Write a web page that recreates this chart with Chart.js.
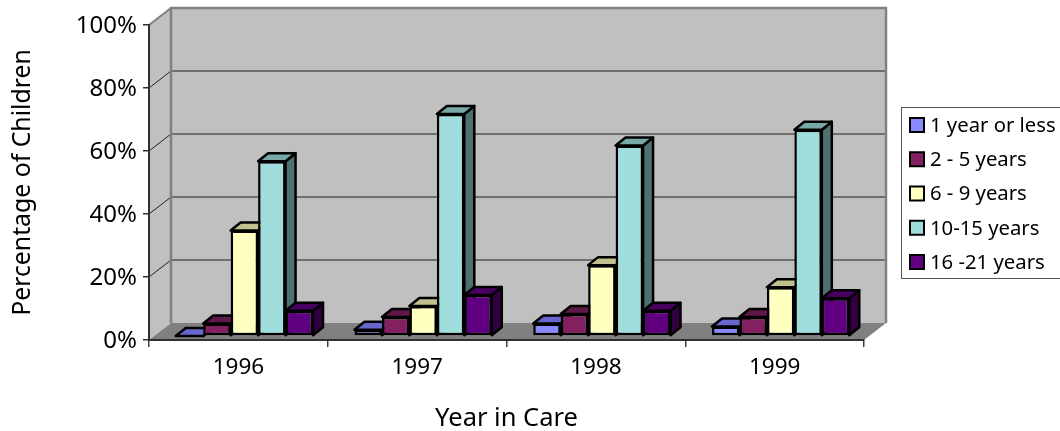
<!DOCTYPE html>
<html>
<head>
<meta charset="utf-8">
<title>Children in care by age group</title>
<script src="https://cdn.jsdelivr.net/npm/chart.js@4"></script>
<style>
  html, body { margin: 0; padding: 0; background: #fff; }
  canvas { display: block; }
</style>
</head>
<body>
<canvas id="careChart" width="1060" height="431"></canvas>
<script>
const years = ['1996', '1997', '1998', '1999'];
const groupNames = ['1 year or less', '2 - 5 years', '6 - 9 years', '10-15 years', '16 -21 years'];

const oneOrLess = [0, 2, 4, 3];
const twoToFive = [4, 6, 7, 6];
const sixToNine = [33.5, 9.5, 22.5, 15.5];
const tenToFifteen = [55.5, 70.5, 60.5, 65.5];
const sixteenUp = [8, 13, 8, 12];

const frontColors = ['#8888FF', '#822060', '#FFFFC0', '#A0DEDE', '#600080'];
const topColors = ['#6666CC', '#601848', '#C0C090', '#78A8A8', '#480060'];
const sideColors = ['#444488', '#401030', '#808060', '#507070', '#300040'];

const seriesValues = [oneOrLess, twoToFive, sixToNine, tenToFifteen, sixteenUp];

const uiFont = '"Noto Sans", "DejaVu Sans", sans-serif';

// depth of the room behind the axes, and of each bar
const wallDx = 22, wallDy = -17;
const barDx = 10, barDy = -8;
// bars stand a little way in from the front edge of the floor
const standDx = 6, standDy = -4;

function poly(ctx, pts, fill, stroke, lineWidth) {
  ctx.beginPath();
  pts.forEach((p, i) => i ? ctx.lineTo(p[0], p[1]) : ctx.moveTo(p[0], p[1]));
  ctx.closePath();
  if (fill) { ctx.fillStyle = fill; ctx.fill(); }
  if (stroke) {
    ctx.strokeStyle = stroke;
    ctx.lineWidth = lineWidth;
    ctx.lineJoin = 'round';
    ctx.stroke();
  }
}

const roomPlugin = {
  id: 'room',
  beforeDraw(chart) {
    const { ctx, chartArea: a } = chart;
    const yScale = chart.scales.y;
    ctx.save();
    // back wall, left wall, floor
    poly(ctx, [[a.left + wallDx, a.top + wallDy], [a.right + wallDx, a.top + wallDy],
      [a.right + wallDx, a.bottom + wallDy], [a.left + wallDx, a.bottom + wallDy]], '#C0C0C0');
    poly(ctx, [[a.left, a.top], [a.left + wallDx, a.top + wallDy],
      [a.left + wallDx, a.bottom + wallDy], [a.left, a.bottom]], '#C0C0C0');
    poly(ctx, [[a.left, a.bottom], [a.left + wallDx, a.bottom + wallDy],
      [a.right + wallDx, a.bottom + wallDy], [a.right, a.bottom]], '#808080');

    yScale.ticks.forEach(t => {
      const y = yScale.getPixelForValue(t.value);
      if (t.value > 0 && t.value < 100) {
        ctx.strokeStyle = '#555555';
        ctx.lineWidth = 1.5;
        ctx.beginPath();
        ctx.moveTo(a.left + wallDx, y + wallDy);
        ctx.lineTo(a.right + wallDx, y + wallDy);
        ctx.stroke();
      }
      if (t.value > 0) {
        ctx.strokeStyle = t.value === 100 ? '#808080' : '#222222';
        ctx.lineWidth = t.value === 100 ? 2 : 1;
        ctx.beginPath();
        ctx.moveTo(a.left, y);
        ctx.lineTo(a.left + wallDx, y + wallDy);
        ctx.stroke();
      }
    });

    // wall outline
    ctx.strokeStyle = '#808080';
    ctx.lineWidth = 2.5;
    ctx.beginPath();
    ctx.moveTo(a.left + wallDx, a.bottom + wallDy);
    ctx.lineTo(a.left + wallDx, a.top + wallDy);
    ctx.lineTo(a.right + wallDx, a.top + wallDy);
    ctx.lineTo(a.right + wallDx, a.bottom + wallDy);
    ctx.stroke();
    ctx.restore();
  },
  beforeDatasetsDraw(chart) {
    const ctx = chart.ctx;
    ctx.save();
    ctx.translate(standDx, standDy);
    // sides and tops go in first so that the bar fronts cover them
    years.forEach((year, j) => {
      chart.data.datasets.forEach((ds, i) => {
        const bar = chart.getDatasetMeta(i).data[j];
        const l = bar.x - bar.width / 2, r = bar.x + bar.width / 2;
        const t = bar.y, b = bar.base;
        poly(ctx, [[r, t], [r + barDx, t + barDy], [r + barDx, b + barDy], [r, b]], sideColors[i], '#000', 2.5);
        poly(ctx, [[l, t], [l + barDx, t + barDy], [r + barDx, t + barDy], [r, t]], topColors[i], '#000', 2.5);
      });
    });
  },
  afterDatasetsDraw(chart) {
    chart.ctx.restore();
  }
};

const legendBoxPlugin = {
  id: 'legendBox',
  afterDraw(chart) {
    const ctx = chart.ctx;
    ctx.save();
    ctx.strokeStyle = '#555555';
    ctx.lineWidth = 1;
    ctx.strokeRect(901.5, 107.5, 170, 171);
    ctx.font = '20.3px ' + uiFont;
    ctx.textBaseline = 'middle';
    chart.data.datasets.forEach((ds, i) => {
      const cy = 125 + i * 34.25;
      ctx.fillStyle = '#000';
      ctx.fillRect(909, cy - 8, 16, 16);
      ctx.fillStyle = frontColors[i];
      ctx.fillRect(911, cy - 6, 12, 12);
      ctx.fillStyle = '#000';
      ctx.fillText(ds.label, 930, cy + 1);
    });
    ctx.restore();
  }
};

new Chart(document.getElementById('careChart'), {
  type: 'bar',
  data: {
    labels: years,
    datasets: groupNames.map((name, i) => ({
      label: name,
      data: seriesValues[i],
      backgroundColor: frontColors[i],
      borderColor: '#000',
      borderWidth: 2.5,
      borderSkipped: false,
      categoryPercentage: 0.768,
      barPercentage: 1,
      clip: false
    }))
  },
  options: {
    responsive: false,
    animation: false,
    layout: { padding: { top: 25, right: 196, bottom: 0, left: 0 } },
    plugins: {
      legend: { display: false },
      tooltip: { enabled: false }
    },
    scales: {
      x: {
        afterFit(scale) { scale.height = 91; },
        grid: { drawOnChartArea: false, color: '#404040', lineWidth: 1.5, tickLength: 7 },
        border: { color: '#303030', width: 2 },
        ticks: { color: '#000', font: { family: uiFont, size: 22.5 }, padding: 7, maxRotation: 0 },
        title: {
          display: true,
          text: 'Year in Care',
          color: '#000',
          font: { family: uiFont, size: 25.5 },
          padding: { top: 0, bottom: -3 }
        }
      },
      y: {
        min: 0,
        max: 100,
        afterFit(scale) { scale.width = 149; },
        grid: { drawOnChartArea: false, color: '#303030', lineWidth: 1.5, tickLength: 6 },
        border: { color: '#303030', width: 2 },
        ticks: {
          stepSize: 20,
          color: '#000',
          font: { family: uiFont, size: 24 },
          padding: 6,
          labelOffset: 1,
          callback: v => v + '%'
        },
        title: {
          display: true,
          text: 'Percentage of Children',
          color: '#000',
          font: { family: uiFont, size: 24.8 },
          padding: { top: 8, bottom: 0 }
        }
      }
    }
  },
  plugins: [roomPlugin, legendBoxPlugin]
});
</script>
</body>
</html>
